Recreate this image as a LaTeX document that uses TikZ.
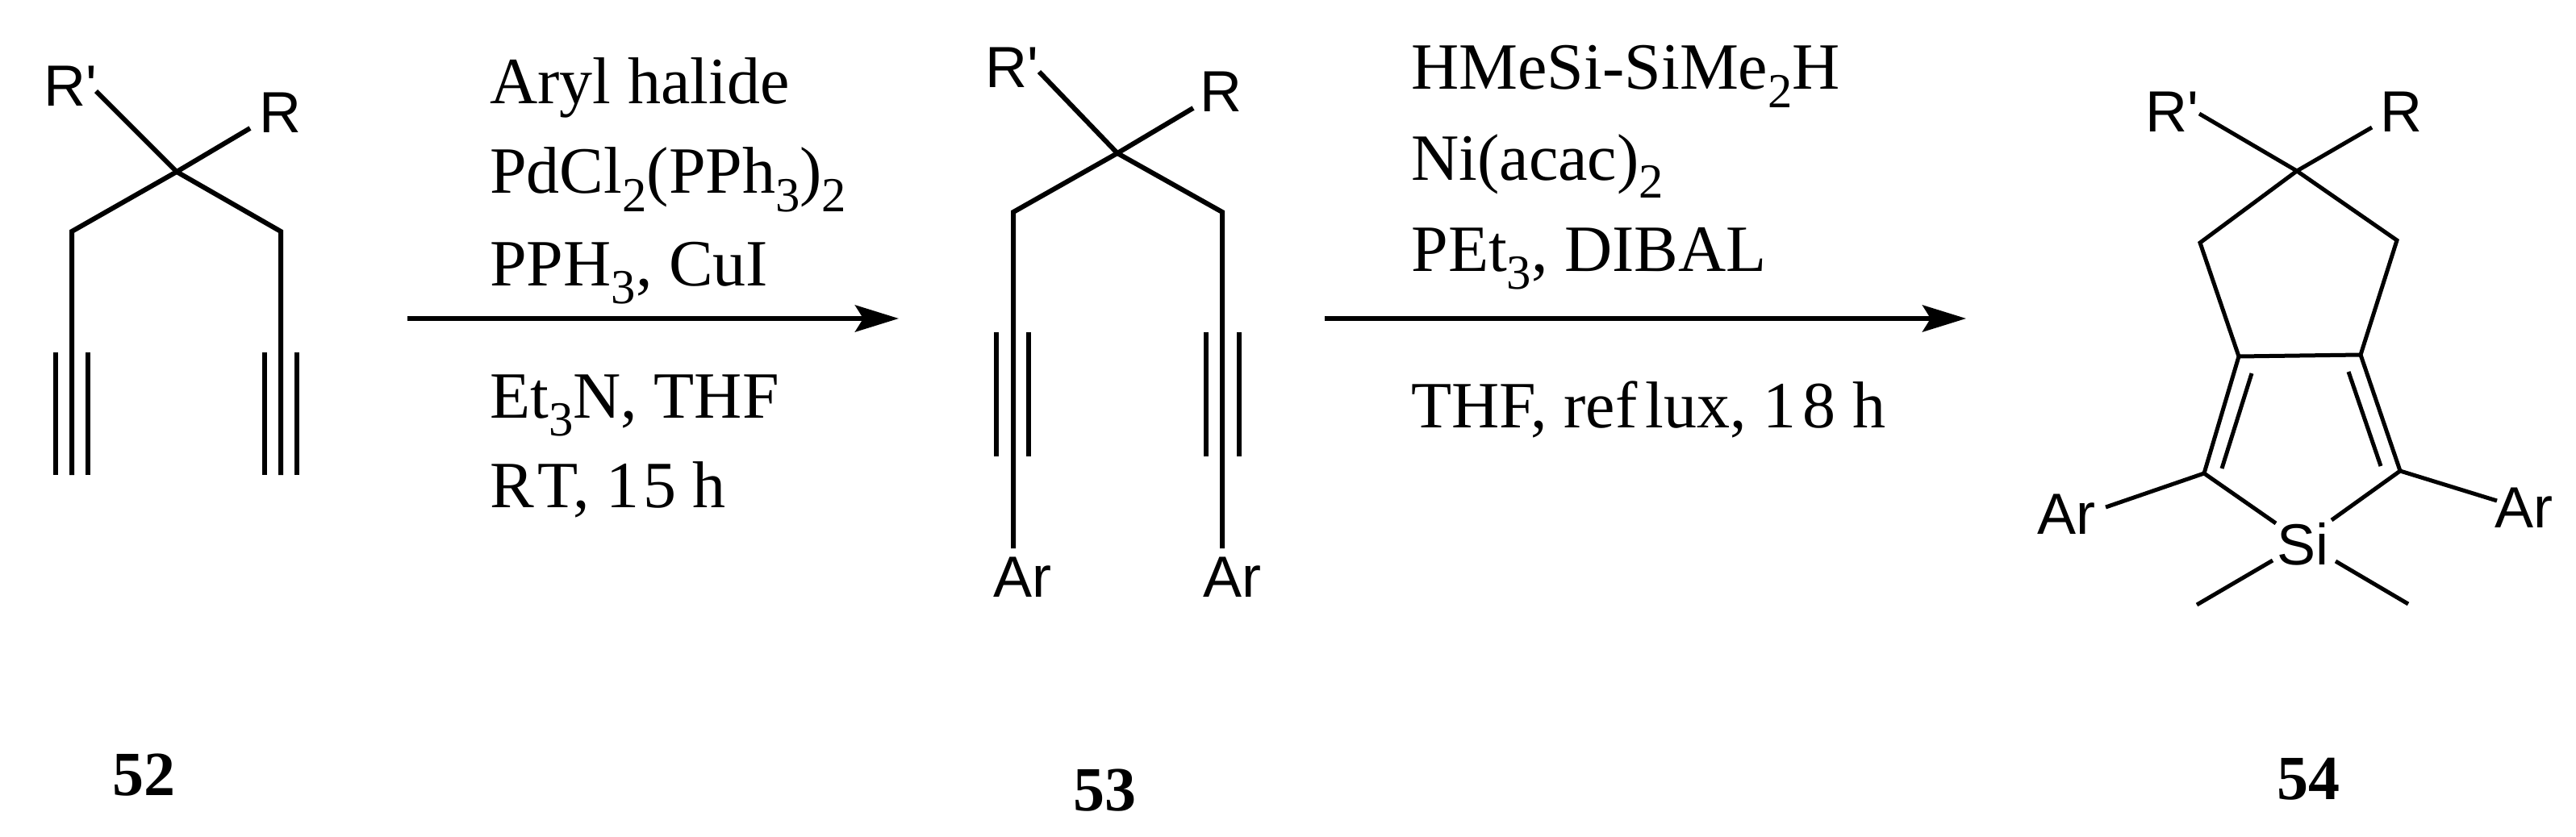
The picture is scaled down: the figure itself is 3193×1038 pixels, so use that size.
\documentclass[tikz,border=0pt]{standalone}
\usepackage{fontspec}
\setmainfont{Liberation Serif}
\newfontfamily\atomfont{Liberation Sans}
\usetikzlibrary{arrows.meta}
\newcommand{\subs}[1]{\raisebox{-0.27em}{\scalebox{.74}{#1}}}

\begin{document}
\begin{tikzpicture}[
x=.5pt,y=-.5pt,
>={Stealth[length=27pt,width=16.5pt,inset=5pt]},
line join=miter,line cap=butt,
bond/.style={draw,line width=3pt},
thinbond/.style={draw,line width=2.5pt},
rxn/.style={draw,line width=3pt,->},
atom/.style={anchor=base west,inner sep=0pt,font=\atomfont\fontsize{36}{36}\selectfont},
reagent/.style={anchor=base west,inner sep=0pt,font=\rmfamily\fontsize{41}{41}\selectfont},
compound/.style={anchor=base,inner sep=0pt,font=\rmfamily\bfseries\fontsize{39}{39}\selectfont}
]
\useasboundingbox (0,0) rectangle (3193,1038);
\fill[white] (0,0) rectangle (3193,1038);

% compound 52
\coordinate (c52) at (219,213);
\coordinate (rp52) at (119,113);
\coordinate (r52) at (310,159);
\coordinate (l52) at (89,287);
\coordinate (k52) at (348,287);
\coordinate (le52) at (89,589);
\coordinate (ke52) at (348,589);
\coordinate (la52) at (69,437);
\coordinate (lb52) at (69,589);
\coordinate (lc52) at (109,437);
\coordinate (ld52) at (109,589);
\coordinate (ka52) at (328,437);
\coordinate (kb52) at (328,589);
\coordinate (kc52) at (368,437);
\coordinate (kd52) at (368,589);
\node[atom] (Rp52) at (54,132) {R'};
\node[atom] (R52) at (321,164) {R};
\draw[bond] (rp52) -- (c52);
\draw[bond] (r52) -- (c52) -- (l52) -- (le52);
\draw[bond] (c52) -- (k52) -- (ke52);
\draw[bond] (la52) -- (lb52);
\draw[bond] (lc52) -- (ld52);
\draw[bond] (ka52) -- (kb52);
\draw[bond] (kc52) -- (kd52);
\node[compound] (n52) at (178,986) {52};

% first step
\coordinate (s1) at (505,395);
\coordinate (e1) at (1114,395);
\draw[rxn] (s1) -- (e1);
\node[reagent] (aryl) at (607,129) {Aryl halide};
\node[reagent] (pd) at (607,240) {PdCl\subs{2}(PPh\subs{3})\subs{2}};
\node[reagent] (pph) at (607,354) {PPH\subs{3}, CuI};
\node[reagent] (et) at (607,518) {Et\subs{3}N, THF};
\node[reagent] (rt) at (607,629) {R\kern.05em T, 1\kern.06em 5 h};

% compound 53
\coordinate (c53) at (1385,190);
\coordinate (rp53) at (1288,89);
\coordinate (r53) at (1479,134);
\coordinate (l53) at (1256,263);
\coordinate (k53) at (1515,263);
\coordinate (le53) at (1256,680);
\coordinate (ke53) at (1515,680);
\coordinate (la53) at (1235,412);
\coordinate (lb53) at (1235,566);
\coordinate (lc53) at (1275,412);
\coordinate (ld53) at (1275,566);
\coordinate (ka53) at (1495,412);
\coordinate (kb53) at (1495,566);
\coordinate (kc53) at (1536,412);
\coordinate (kd53) at (1536,566);
\node[atom] (Rp53) at (1221,109) {R'};
\node[atom] (R53) at (1487,139) {R};
\node[atom] (Arl53) at (1231,740) {Ar};
\node[atom] (Ark53) at (1491,740) {Ar};
\draw[bond] (rp53) -- (c53);
\draw[bond] (r53) -- (c53) -- (l53) -- (le53);
\draw[bond] (c53) -- (k53) -- (ke53);
\draw[bond] (la53) -- (lb53);
\draw[bond] (lc53) -- (ld53);
\draw[bond] (ka53) -- (kb53);
\draw[bond] (kc53) -- (kd53);
\node[compound] (n53) at (1369,1005) {53};

% second step
\coordinate (s2) at (1642,395);
\coordinate (e2) at (2437,395);
\draw[rxn] (s2) -- (e2);
\node[reagent] (si) at (1749,111) {HMeSi-SiMe\subs{2}H};
\node[reagent] (ni) at (1749,223) {Ni(acac)\subs{2}};
\node[reagent] (pet) at (1749,336) {PEt\subs{3}, DIBAL};
\node[reagent] (thf) at (1749,530) {THF, ref\kern.12em lux, 1\kern.1em 8 h};

% compound 54
\coordinate (c54) at (2847,212);
\coordinate (rp54) at (2726,141);
\coordinate (r54) at (2940,158);
\coordinate (l54) at (2727,301);
\coordinate (k54) at (2971,298);
\coordinate (lf54) at (2775,442);
\coordinate (kf54) at (2926,440);
\coordinate (ld54) at (2732,587);
\coordinate (kd54) at (2975,584);
\coordinate (la54) at (2791,463);
\coordinate (lb54) at (2754,581);
\coordinate (ka54) at (2911,461);
\coordinate (kb54) at (2951,578);
\coordinate (ls54) at (2821,649);
\coordinate (ks54) at (2890,645);
\coordinate (lr54) at (2610,629);
\coordinate (kr54) at (3095,621);
\coordinate (lm54) at (2817,695);
\coordinate (lme54) at (2723,750);
\coordinate (km54) at (2895,696);
\coordinate (kme54) at (2985,749);
\node[atom] (Rp54) at (2659,163) {R'};
\node[atom] (R54) at (2950,163) {R};
\node[atom] (Arl54) at (2525,662) {Ar};
\node[atom] (Ark54) at (3092,654) {Ar};
\node[atom] (Si54) at (2822,700) {Si};
\draw[thinbond] (rp54) -- (c54) -- (r54);
\draw[thinbond] (ls54) -- (ld54) -- (lf54) -- (l54) -- (c54) -- (k54) -- (kf54) -- (kd54) -- (ks54);
\draw[thinbond] (lf54) -- (kf54);
\draw[thinbond] (la54) -- (lb54);
\draw[thinbond] (ka54) -- (kb54);
\draw[thinbond] (ld54) -- (lr54);
\draw[thinbond] (kd54) -- (kr54);
\draw[thinbond] (lm54) -- (lme54);
\draw[thinbond] (km54) -- (kme54);
\node[compound] (n54) at (2861,991) {54};
\end{tikzpicture}
\end{document}
